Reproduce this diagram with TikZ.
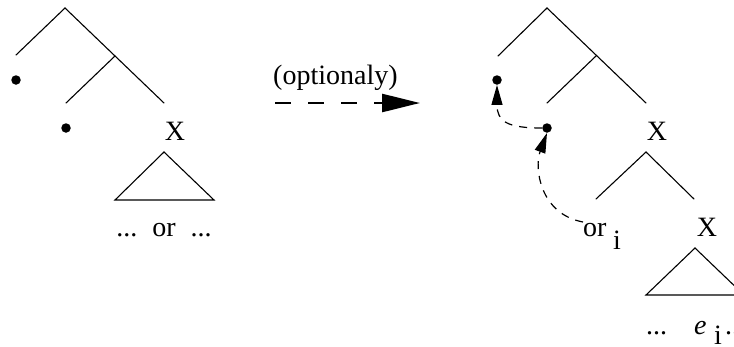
\documentclass[tikz,border=0pt]{standalone}
\usepackage{fontspec}
\setmainfont{Liberation Serif}
\usetikzlibrary{arrows.meta}
\begin{document}
\begin{tikzpicture}[x=1pt,y=-1pt,
  branch/.style={line width=1.1pt, line cap=round},
  dotnode/.style={circle, fill=black, inner sep=0pt, minimum size=9.5pt},
  lbl/.style={inner sep=0pt, font=\fontsize{28}{31}\selectfont},
  movearrow/.style={dash pattern=on 8pt off 7pt, line width=1.2pt, -{Triangle[length=20pt,width=11pt]}}]
\useasboundingbox (0,0) rectangle (734,346);
\clip (0,0) rectangle (734,346);
% ---------------- left tree ----------------
\coordinate (L0) at (65,8);
\coordinate (L1) at (16,55);
\coordinate (L2) at (115,56);
\coordinate (L3) at (66,103);
\coordinate (L4) at (164,103);
\draw[branch] (L1) -- (L0) -- (L4);
\draw[branch] (L2) -- (L3);
\node[dotnode] (ld1) at (16,80) {};
\node[dotnode] (ld2) at (66,128) {};
\node[lbl, anchor=base] (lx) at (175,140) {X};
\coordinate (LT0) at (164,152);
\coordinate (LT1) at (115,200);
\coordinate (LT2) at (214,200);
\draw[branch, line join=miter] (LT0) -- (LT1) -- (LT2) -- cycle;
\node[lbl, anchor=base] (lyield) at (164,236) {...\hspace{15pt}or\hspace{15pt}...};
% ---------------- middle arrow ----------------
\node[lbl, anchor=base west] (opt) at (273,84) {(optionaly)};
\coordinate (as) at (275,103);
\coordinate (ae) at (420,103);
\draw[line width=2.5pt, dash pattern=on 16pt off 17pt, -{Triangle[length=38pt,width=18pt]}] (as) -- (ae);
% ---------------- right tree ----------------
\coordinate (R0) at (547,8);
\coordinate (R1) at (498,56);
\coordinate (R2) at (596,56);
\coordinate (R3) at (547,103);
\coordinate (R4) at (646,103);
\draw[branch] (R1) -- (R0) -- (R4);
\draw[branch] (R2) -- (R3);
\node[dotnode] (rd1) at (497,80) {};
\node[dotnode] (rd2) at (547,128) {};
\node[lbl, anchor=base] (rx) at (657,140) {X};
\coordinate (R5) at (646,152);
\coordinate (R6) at (596,199);
\coordinate (R7) at (694,199);
\draw[branch] (R6) -- (R5) -- (R7);
\node[lbl, anchor=base west] (or2) at (583,236) {or};
\node[lbl, anchor=base west] (sub1) at (613,249) {i};
\node[lbl, anchor=base] (rx2) at (707,236) {X};
\coordinate (RT0) at (695,248);
\coordinate (RT1) at (646,295);
\coordinate (RT2) at (744,295);
\draw[branch, line join=miter] (RT0) -- (RT1) -- (RT2) -- cycle;
\node[lbl, anchor=base west] (ry1) at (646,334) {...};
\node[lbl, anchor=base west] (re) at (694,334) {\itshape e};
\node[lbl, anchor=base west] (rsub) at (714,344) {i};
\node[lbl, anchor=base west] (ry2) at (725,334) {...};
% ---------------- movement arrows ----------------
\draw[movearrow] ([yshift=14pt]or2.base west) .. controls (540,214) and (534,168) .. (rd2.south);
\draw[movearrow] (rd2.west) .. controls (508,128) and (497,122) .. (rd1.south);
\end{tikzpicture}
\end{document}
